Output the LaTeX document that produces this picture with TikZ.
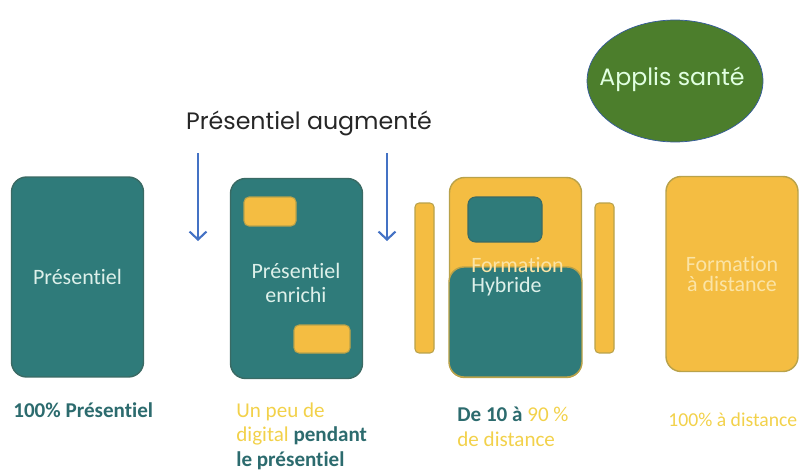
\documentclass[tikz,border=0pt]{standalone}
\usepackage{fontspec}
\setmainfont{Carlito}[Ligatures=CommonOff]
\newfontfamily\gothic{Poppins}
\usepackage{tikz}
\usetikzlibrary{positioning}
\usetikzlibrary{shapes.geometric}
\usetikzlibrary{arrows.meta}
\definecolor{sarcelle}{HTML}{2F7B7A}
\definecolor{sarcelleBord}{HTML}{3A6A64}
\definecolor{jaune}{HTML}{F4BD42}
\definecolor{jauneBord}{HTML}{B9A24A}
\definecolor{clairS}{HTML}{DDF0EA}
\definecolor{clairJ}{HTML}{FBE4A6}
\definecolor{citron}{HTML}{F2D14A}
\definecolor{texteS}{HTML}{2C6B6E}
\definecolor{vert}{HTML}{4C7E2C}
\definecolor{bleu}{HTML}{4472C4}

\begin{document}
\begin{tikzpicture}[x=0.02cm, y=-0.02cm,
		carte/.style={
			rounded corners=0.3cm,
			minimum width=2.64cm,
			minimum height=4cm,
			line width=0.8pt,
			align=center,
			font=\fontsize{12.5}{11.5}\selectfont,
		},
		pave/.style={rounded corners=0.1cm, line width=0.6pt},
		barre/.style={draw=jauneBord, fill=jaune, rounded corners=0.08cm, line width=0.6pt,
			minimum width=0.38cm, minimum height=3cm},
		legende/.style={anchor=base west, align=left, inner sep=0,
			font=\fontsize{12}{13.8}\selectfont},
		fleche/.style={-{Straight Barb[length=1.6mm, width=3.4mm]}, draw=bleu, line width=1.2pt},
	]
	\useasboundingbox (0,0) rectangle (800,473);
	
	% titre et cercle
	\node[font=\gothic\fontsize{13.5}{14}\selectfont, text=black!85] (titre) at (309,123) {Présentiel augmenté};
	\node[ellipse, draw=bleu!80!black, fill=vert, line width=0.4pt, minimum width=3.52cm, minimum height=2.44cm] (applis) at (675,81) {};
	\node[font=\gothic\fontsize{13.5}{14}\selectfont, text=white!88!green] (applisT) at (672,79) {Applis santé};
	
	% fleches
	\coordinate (f1h) at (198,153);
	\coordinate (f1b) at (198,241);
	\coordinate (f2h) at (387,153);
	\coordinate (f2b) at (387,241);
	\draw[fleche] (f1h) -- (f1b);
	\draw[fleche] (f2h) -- (f2b);
	
	% presentiel
	\node[carte, draw=sarcelleBord, fill=sarcelle, text=clairS] (pres) at (77.5,277) {Présentiel};
	
	% presentiel enrichi
	\node[carte, draw=sarcelleBord, fill=sarcelle] (enrichi) at (296.5,278.5) {};
	\node[pave, draw=jauneBord, fill=jaune, minimum width=1.04cm, minimum height=0.58cm] (pave1) at (270,211.5) {};
	\node[pave, draw=jauneBord, fill=jaune, minimum width=1.12cm, minimum height=0.56cm] (pave2) at (322,339) {};
	\node[font=\fontsize{12.5}{14}\selectfont, text=clairS, align=center] (enrichiT) at (296,283) {Présentiel\\enrichi};
	
	% hybride
	\node[barre] (barreG) at (424.5,278) {};
	\node[barre] (barreD) at (604.5,278) {};
	\node[carte, draw=jauneBord, fill=jaune] (hybride) at (515.5,277.5) {};
	\node[pave, draw=sarcelleBord, fill=sarcelle, rounded corners=0.15cm, minimum width=1.48cm, minimum height=0.9cm] (pave3) at (505,219.5) {};
	\node[draw=jauneBord, fill=sarcelle, rounded corners=0.3cm, line width=0.8pt, minimum width=2.66cm, minimum height=2.2cm] (bas) at (515.5,322) {};
	\node[anchor=base west, inner sep=0, font=\fontsize{12.5}{11.5}\selectfont, text=clairJ] (formT) at (471,272) {Formation};
	\node[anchor=base west, inner sep=0, font=\fontsize{12.5}{11.5}\selectfont, text=clairS] (hybT) at (471,292) {Hybride};
	
	% distance
	\node[carte, draw=jauneBord, fill=jaune, text=clairJ, minimum height=3.9cm] (dist) at (732,274) {Formation\\à distance};
	
	% legendes
	\node[legende, text=texteS] (leg1) at (13,417) {\textbf{100\% Présentiel}};
	\node[legende, text=texteS] (leg2) at (236,466) {\textcolor{citron}{Un peu de}\\
		\textcolor{citron}{digital} \textbf{pendant}\\ \textbf{le présentiel}};
	\node[legende, text=citron] (leg3) at (457,446) {\textcolor{texteS}{\textbf{De 10 à}} 90 \%\\de distance};
	\node[legende, text=citron, font=\fontsize{11.2}{13}\selectfont] (leg4) at (668,426) {100\% à distance};
\end{tikzpicture}
\end{document}
